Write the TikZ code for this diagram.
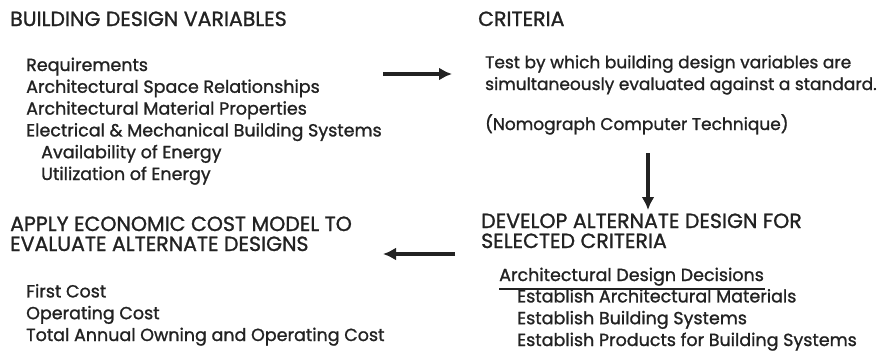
\documentclass[tikz,border=0pt]{standalone}
\usepackage{fontspec}
\setmainfont{Poppins}[RawFeature={embolden=1.2}]
\usetikzlibrary{positioning,calc,arrows.meta}
\definecolor{inkline}{RGB}{34,34,34}

\begin{document}
\begin{tikzpicture}[x=1pt, y=-1pt,
  head/.style={font=\fontsize{20.5}{20}\selectfont, text=inkline, align=left, inner sep=0pt, anchor=base west},
  item/.style={font=\fontsize{17.5}{21.8}\selectfont, text=inkline, align=left, inner sep=0pt, anchor=base west},
  flow/.style={-{Latex[length=13pt,width=13pt]}, line width=3.6pt, draw=inkline}]
\useasboundingbox (0,0) rectangle (883,356);

% ---- top left: the variables (nodes sit on their last baseline) ----
\node[head] (varhd) at (10,26) {BUILDING DESIGN VARIABLES};
\node[item] (vars) at (26,180) {Requirements\\Architectural Space Relationships\\Architectural Material Properties\\Electrical \& Mechanical Building Systems\\\hspace*{15pt}Availability of Energy\\\hspace*{15pt}Utilization of Energy};

% ---- top right: the criteria ----
\node[head] (crithd) at (478,26) {CRITERIA};
\node[item, font=\fontsize{17}{21.8}\selectfont] (crit) at (485,90) {Test by which building design variables are\\simultaneously evaluated against a standard.};
\node[item, font=\fontsize{17}{21.8}\selectfont] (nomo) at (485,130) {(Nomograph Computer Technique)};

% ---- bottom right: alternate designs ----
\node[head] (devhd) at (481,248) {DEVELOP ALTERNATE DESIGN FOR\\SELECTED CRITERIA};
\node[item] (add) at (499,281) {Architectural Design Decisions};
\node[item] (est) at (517,346) {Establish Architectural Materials\\Establish Building Systems\\Establish Products for Building Systems};
\draw[line width=1.4pt, draw=inkline] ($(add.base west)+(0,8)$) -- ($(add.base east)+(1,8)$);

% ---- bottom left: the cost model ----
\node[head] (econhd) at (10,251) {APPLY ECONOMIC COST MODEL TO\\EVALUATE ALTERNATE DESIGNS};
\node[item] (cost) at (26,341) {First Cost\\Operating Cost\\Total Annual Owning and Operating Cost};

% ---- flow between the blocks ----
\coordinate (a1) at (383,74);
\coordinate (b1) at (452,74);
\coordinate (a2) at (648,153);
\coordinate (b2) at (648,210);
\coordinate (a3) at (455,254);
\coordinate (b3) at (383,254);
\draw[flow] (a1) -- (b1);
\draw[flow] (a2) -- (b2);
\draw[flow] (a3) -- (b3);
\end{tikzpicture}
\end{document}
